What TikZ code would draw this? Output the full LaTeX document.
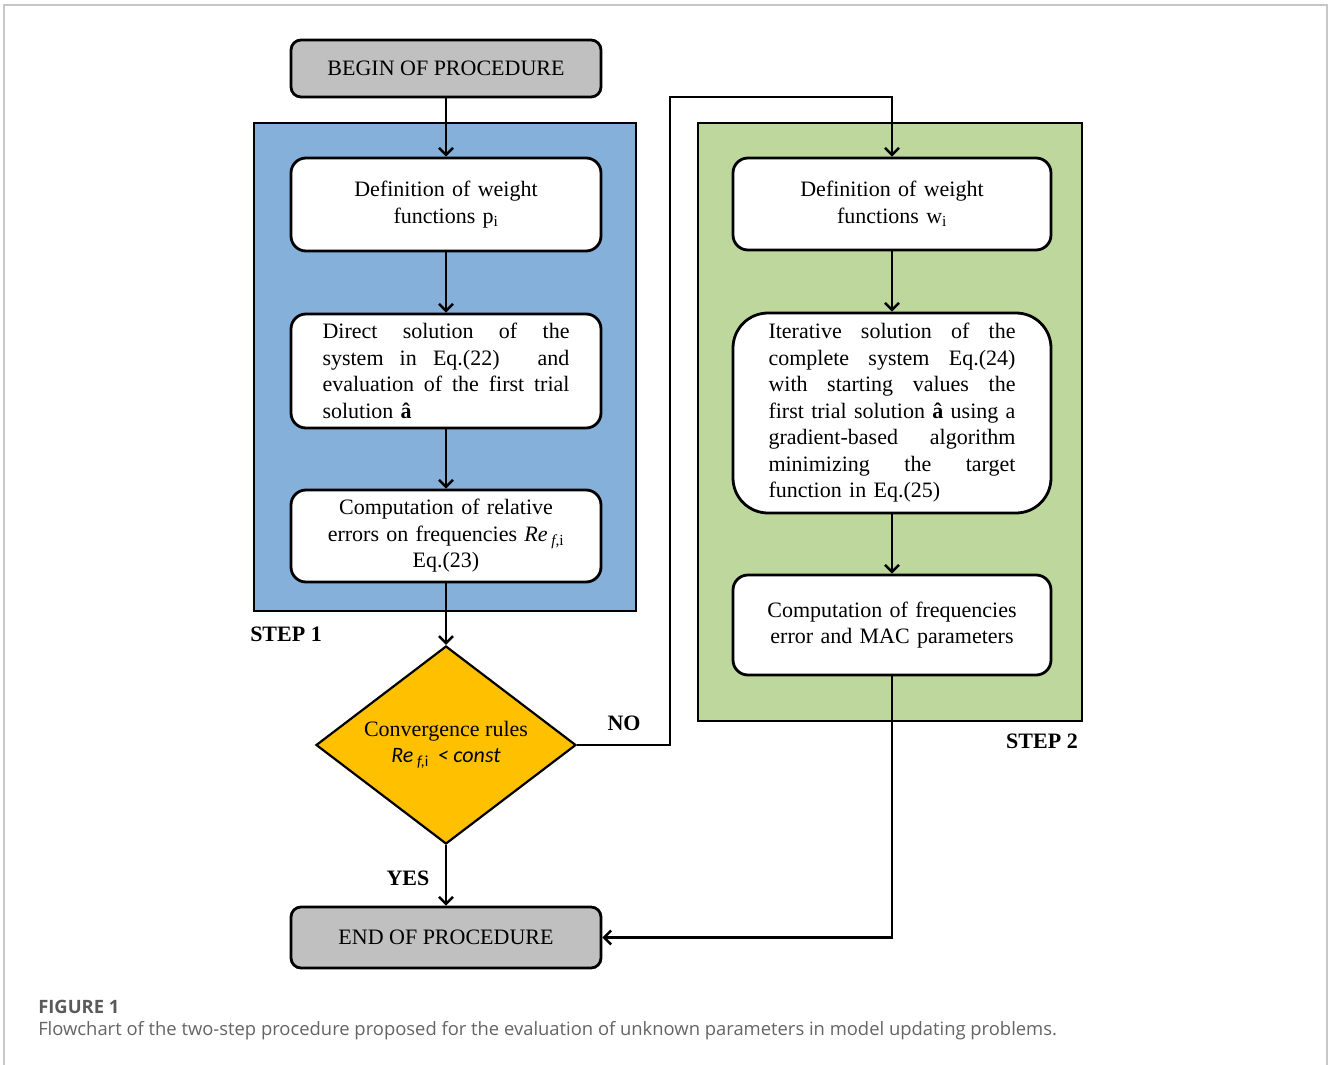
\documentclass[tikz,border=0pt]{standalone}
\usepackage{fontspec}
\setmainfont{Liberation Serif}
\newfontfamily\capfont{Open Sans}
\newfontfamily\eqfont{Carlito}
\usetikzlibrary{shapes.geometric,arrows.meta}

\definecolor{stepblue}{RGB}{132,176,217}
\definecolor{stepgreen}{RGB}{189,215,156}
\definecolor{ruleorange}{RGB}{255,192,0}
\definecolor{termgray}{RGB}{192,192,192}
\definecolor{capgray}{RGB}{100,100,100}

% one stretched line of a justified paragraph
\newcommand{\fullline}[1]{\leavevmode\hbox to 247pt{\spaceskip=0.25em plus 1fil\relax #1}}

\tikzset{every picture/.style={line width=2.5pt}}
\tikzset{
  procbox/.style={draw, line width=2.8pt, fill=white, rounded corners=15pt, inner sep=0pt,
    minimum width=310, font=\fontsize{22}{26.5}\selectfont},
  termbox/.style={procbox, fill=termgray, rounded corners=10pt},
  rulebox/.style={draw, line width=2.2pt, fill=ruleorange, shape=diamond, aspect=1.31, inner sep=0pt,
    minimum width=260, minimum height=198, align=center, font=\fontsize{22}{28}\selectfont},
  arr/.style={-{Straight Barb[length=7pt,width=14pt]}},
  steplabel/.style={font=\fontsize{22}{26}\selectfont\bfseries, inner sep=0pt}
}

\begin{document}
\begin{tikzpicture}[x=1pt,y=1pt,yscale=-1,xscale=1]
\useasboundingbox (0,0) rectangle (1328,1065);

%Outer frame
\draw [line width=1.5pt, color=black!22] (4,1070) -- (4,5) -- (1327,5) -- (1327,1070);

%Shape: Rectangle (step 1 area)
\draw [fill=stepblue, line width=2pt] (254,123) rectangle (636,611);
%Shape: Rectangle (step 2 area)
\draw [fill=stepgreen, line width=2pt] (698,123) rectangle (1082,721);

% Terminal nodes
\node [termbox, minimum height=57] (begin) at (446,68.5) {BEGIN OF PROCEDURE};
\node [termbox, minimum height=61] (end) at (446,937.5) {END OF PROCEDURE};

% Step 1 nodes
\node [procbox, minimum height=93, text width=250, align=center] (wp) at (446,204.5)
  {Definition of weight\\functions p\textsubscript{i}};
\node [procbox, minimum height=114, text width=247, align=left] (direct) at (446,371)
  {\fullline{Direct solution of the}\\\fullline{system in Eq.(22)\hspace{1em} and}\\
   \fullline{evaluation of the first trial}\\solution \textbf{â}};
\node [procbox, minimum height=92, text width=250, align=center] (relerr) at (446,536)
  {Computation of relative\\errors on frequencies \textit{Re}\,\textsubscript{\textit{f},i}\\Eq.(23)};

% Decision node
\node [rulebox] (conv) at (446,745)
  {Convergence rules\\[-2pt]{\eqfont\itshape Re}\,\textsubscript{\eqfont\itshape f,\upshape i}\,{\eqfont\itshape\ <\ const}};

% Step 2 nodes
\node [procbox, minimum width=318, minimum height=92, text width=250, align=center] (ww) at (892,204)
  {Definition of weight\\functions w\textsubscript{i}};
\node [procbox, minimum width=318, minimum height=200, rounded corners=35pt, text width=247, align=left] (iter) at (892,413)
  {\fullline{Iterative solution of the}\\\fullline{complete system Eq.(24)}\\
   \fullline{with starting values the}\\\fullline{first trial solution \textbf{â} using a}\\
   \fullline{gradient-based algorithm}\\\fullline{minimizing the target}\\
   function in Eq.(25)};
\node [procbox, minimum width=318, minimum height=100, text width=260, align=center] (macpar) at (892,625)
  {Computation of frequencies\\error and MAC parameters};

% Text Node
\node [steplabel, anchor=west] (step1) at (249,634) {STEP 1};
% Text Node
\node [steplabel, anchor=east] (step2) at (1079,741) {STEP 2};
% Text Node
\node [steplabel] (yes) at (408,878) {YES};
% Text Node
\node [steplabel] (no) at (624,723) {NO};
\coordinate (noturn) at (670,97);

% Connectors
\draw [arr] (begin) -- (wp);
\draw [arr] (wp) -- (direct);
\draw [arr] (direct) -- (relerr);
\draw [arr] (relerr) -- (conv);
\draw [arr] (conv) -- (end);
\draw [arr] (conv.east) -| (noturn) -| (ww.north);
\draw [arr] (ww) -- (iter);
\draw [arr] (iter) -- (macpar);
\draw [arr] (macpar.south) |- (end.east);

% Caption
\node [anchor=west, inner sep=0pt, text=capgray!90!black, font=\capfont\fontsize{18.4}{21}\selectfont\bfseries] (figno) at (37,1007) {FIGURE 1};
\node [anchor=west, inner sep=0pt, text=capgray, font=\capfont\fontsize{18.4}{21}\selectfont] (caption) at (37,1031)
  {Flowchart of the two-step procedure proposed for the evaluation of unknown parameters in model updating problems.};

\end{tikzpicture}
\end{document}
